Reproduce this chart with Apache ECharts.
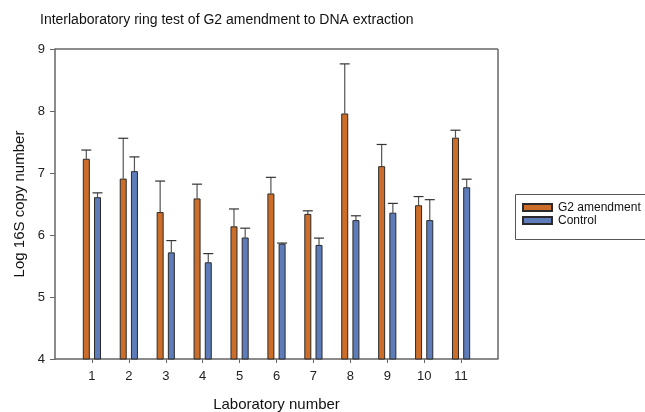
<!DOCTYPE html>
<html>
<head>
<meta charset="utf-8">
<script src="https://cdn.jsdelivr.net/npm/echarts@6/dist/echarts.min.js"></script>
<style>html,body{margin:0;padding:0;background:#fff}#c{width:645px;height:412px}</style>
</head>
<body>
<div id="c"></div>
<script>
var labs = [1,2,3,4,5,6,7,8,9,10,11];
var g2Mean = [7.23,6.91,6.37,6.59,6.14,6.67,6.34,7.96,7.11,6.48,7.57];
var g2Err  = [0.14,0.65,0.50,0.23,0.28,0.26,0.05,0.80,0.35,0.14,0.12];
var ctlMean = [6.61,7.03,5.72,5.56,5.96,5.86,5.84,6.24,6.36,6.24,6.77];
var ctlErr  = [0.07,0.23,0.19,0.14,0.15,0.01,0.11,0.07,0.15,0.33,0.13];
var yTicks = [4,5,6,7,8,9];

var FONT = 'Liberation Sans, Arial, sans-serif';
var ORANGE = '#CC6E2A';
var BLUE = '#5D7CB9';

function errSeries(name, means, errs, offset) {
  return {
    type: 'custom',
    name: name + ' err',
    silent: true,
    z: 1,
    data: labs.map(function (l, i) { return [l, means[i], means[i] + errs[i]]; }),
    renderItem: function (params, api) {
      var p0 = api.coord([api.value(0), api.value(1)]);
      var p1 = api.coord([api.value(0), api.value(2)]);
      var x = p0[0] + offset;
      var hw = 5;
      return {
        type: 'group',
        children: [
          { type: 'line', shape: { x1: x, y1: p0[1], x2: x, y2: p1[1] }, style: { stroke: '#555', lineWidth: 1.2 } },
          { type: 'line', shape: { x1: x - hw, y1: p1[1], x2: x + hw, y2: p1[1] }, style: { stroke: '#333', lineWidth: 1.2 } }
        ]
      };
    }
  };
}

var chart = echarts.init(document.getElementById('c'), null, { renderer: 'canvas' });
chart.setOption({
  animation: false,
  backgroundColor: '#fff',
  title: {
    text: 'Interlaboratory ring test of G2 amendment to DNA extraction',
    left: 35, top: 8,
    textStyle: { fontFamily: FONT, fontSize: 14, fontWeight: 'normal', color: '#111' }
  },
  grid: { left: 55, right: 147, top: 49, bottom: 53, outerBoundsMode: 'none', containLabel: false },
  legend: {
    orient: 'vertical',
    left: 522, top: 201, padding: 0,
    itemWidth: 29, itemHeight: 7, itemGap: 0,
    icon: 'rect',
    data: ['G2 amendment', 'Control'],
    textStyle: { fontFamily: FONT, fontSize: 12, color: '#111', lineHeight: 13, padding: [0, 0, 0, 1] }
  },
  graphic: [{
    type: 'rect', left: 513, top: 192,
    shape: { width: 140, height: 45 },
    style: { fill: 'none', stroke: '#555', lineWidth: 1 }, z: -1
  }],
  xAxis: {
    type: 'value', min: 0, max: 12,
    name: 'Laboratory number', nameLocation: 'middle', nameGap: 38,
    nameTextStyle: { fontFamily: FONT, fontSize: 15, color: '#111' },
    axisLine: { show: true, lineStyle: { color: '#666', width: 1.5 } },
    axisTick: { show: true, length: 4, lineStyle: { color: '#666' }, customValues: labs },
    axisLabel: { fontFamily: FONT, fontSize: 13, color: '#222', margin: 11, customValues: labs },
    splitLine: { show: false }
  },
  yAxis: {
    type: 'value', min: 4, max: 9, interval: 1,
    name: 'Log 16S copy number', nameLocation: 'middle', nameGap: 27,
    nameTextStyle: { fontFamily: FONT, fontSize: 15, color: '#111' },
    axisLine: { show: true, lineStyle: { color: '#666', width: 1.5 } },
    axisTick: { show: true, length: 5, lineStyle: { color: '#666' } },
    axisLabel: { fontFamily: FONT, fontSize: 13, color: '#222', margin: 10 },
    splitLine: { show: false }
  },
  series: [
    {
      type: 'bar', name: 'G2 amendment',
      data: labs.map(function (l, i) { return [l, g2Mean[i]]; }),
      barWidth: 7, barGap: '60%', z: 2,
      itemStyle: { color: ORANGE, borderColor: '#2a2a2a', borderWidth: 1 }
    },
    {
      type: 'bar', name: 'Control',
      data: labs.map(function (l, i) { return [l, ctlMean[i]]; }),
      barWidth: 7, barGap: '60%', z: 2,
      itemStyle: { color: BLUE, borderColor: '#2a2a2a', borderWidth: 1 }
    },
    errSeries('G2 amendment', g2Mean, g2Err, -5.6),
    errSeries('Control', ctlMean, ctlErr, 5.6),
    {
      type: 'line', silent: true, data: [],
      markLine: {
        silent: true, symbol: 'none', label: { show: false },
        lineStyle: { color: '#666', width: 1.5, type: 'solid' },
        data: [
          [{ coord: [0, 9] }, { coord: [12, 9] }],
          [{ coord: [12, 4] }, { coord: [12, 9] }]
        ]
      }
    }
  ]
});
</script>
</body>
</html>
